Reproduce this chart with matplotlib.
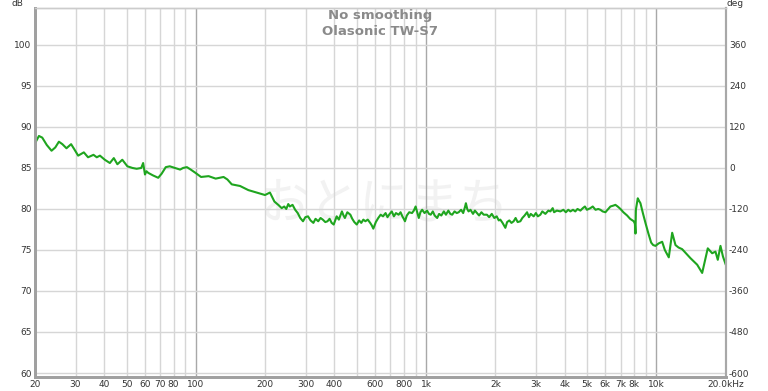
import matplotlib.pyplot as plt
from matplotlib.ticker import FixedLocator, FixedFormatter, NullLocator

# 频响数据 (Hz, dB)
freq = [20, 20.8, 21.5, 22.5, 23.6, 24.5, 25.4, 26.3, 27.4, 28.7, 29.6, 30.8, 32.6, 34.0,
        35.9, 37.1, 38.3, 40.2, 42.3, 44.0, 45.6, 47.9, 50.4, 53, 55.3, 57.9, 59.0, 60.1,
        61, 62.1, 65, 68.6, 71, 74.0, 77, 81.0, 85.4, 88, 91.4, 95, 99.6, 105.3, 113.6,
        121.9, 131.9, 137, 143.2, 155.6, 169.0, 183.8, 199.6, 209.8, 219.4,
        228, 236, 242, 247, 252, 256, 263, 270, 277, 284, 292, 299, 307, 315, 324, 331,
        340, 348, 356, 365, 373, 381, 389, 397, 409, 418, 431, 438, 444, 455, 469, 478,
        488, 500, 512, 523, 534, 545, 558, 572, 581, 590, 605, 620, 635, 650, 667, 680,
        695, 710, 725, 740, 760, 775, 789, 800, 810, 825, 845, 869, 885, 901, 915, 930,
        945, 962, 985, 1010, 1030, 1048, 1070, 1090, 1118, 1140, 1165, 1195, 1220, 1250,
        1275, 1299, 1330, 1360, 1386, 1420, 1450, 1475, 1490, 1510, 1530, 1560, 1600,
        1630, 1664, 1700, 1740, 1780, 1839, 1880, 1930, 1980, 2028, 2070, 2102, 2150,
        2211, 2250, 2300, 2350, 2402, 2450, 2500, 2569, 2620, 2680, 2747, 2800, 2850,
        2935, 3000, 3060, 3138, 3200, 3300, 3400, 3468, 3550, 3600, 3700, 3834, 3950,
        4050, 4150, 4238, 4350, 4450, 4550, 4684, 4800, 4900, 5000, 5177, 5300, 5450,
        5600, 5722, 5850, 6016, 6150, 6325, 6500, 6650, 6800, 6992, 7200, 7477, 7700,
        7988, 8080, 8127, 8160, 8315, 8420, 8541, 8750, 8980, 9250, 9506, 9700, 9926,
        10250, 10614, 10900, 11340, 11732, 12126, 12500, 12962, 14087, 15070, 15837,
        16750, 17500, 18090, 18514, 19020, 19500, 20000]
spl = [88.0, 88.9, 88.7, 87.8, 87.1, 87.5, 88.2, 87.9, 87.4, 87.9, 87.3, 86.5, 86.9, 86.3,
       86.6, 86.3, 86.5, 86.0, 85.6, 86.2, 85.45, 86.0, 85.2, 85.0, 84.9, 85.0, 85.6, 84.2,
       84.6, 84.4, 84.1, 83.8, 84.3, 85.1, 85.2, 85.0, 84.8, 85.0, 85.1, 84.8, 84.4, 83.9,
       84.0, 83.7, 83.9, 83.6, 83.0, 82.8, 82.3, 82.0, 81.7, 82.0, 80.9,
       80.5, 80.1, 80.3, 80.0, 80.6, 80.3, 80.5, 79.9, 79.5, 78.9, 78.5, 79.0, 79.1, 78.6,
       78.3, 78.8, 78.5, 78.9, 78.7, 78.4, 78.5, 78.8, 78.3, 78.1, 79.1, 78.7, 79.7, 79.2,
       78.9, 79.6, 79.3, 78.8, 78.4, 78.1, 78.6, 78.3, 78.7, 78.5, 78.7, 78.3, 78.0, 77.6,
       78.4, 78.9, 79.3, 79.1, 79.5, 79.0, 79.4, 79.7, 79.1, 79.5, 79.3, 79.6, 79.1, 78.8,
       78.5, 79.2, 79.6, 79.5, 79.8, 80.3, 79.6, 78.9, 79.6, 79.9, 79.5, 79.8, 79.4, 79.3,
       79.7, 79.2, 78.9, 79.4, 79.2, 79.7, 79.3, 79.8, 79.4, 79.3, 79.7, 79.5, 79.6, 79.9,
       79.5, 80.2, 80.7, 80.0, 79.7, 79.9, 79.4, 79.8, 79.5, 79.2, 79.6, 79.3, 79.3, 79.0,
       79.4, 78.9, 79.1, 78.6, 78.7, 78.3, 77.7, 78.4, 78.6, 78.3, 78.5, 78.9, 78.4, 78.5,
       78.9, 79.2, 79.6, 79.0, 79.4, 79.1, 79.5, 79.1, 79.3, 79.7, 79.4, 79.8, 79.7, 80.1,
       79.6, 79.8, 79.7, 79.9, 79.6, 79.9, 79.7, 79.9, 79.7, 80.0, 79.8, 80.1, 80.3, 79.9,
       80.1, 80.3, 79.9, 80.0, 79.9, 79.7, 79.6, 79.9, 80.3, 80.4, 80.5, 80.3, 80.0, 79.6,
       79.2, 78.8, 78.5, 78.2, 77.0, 79.9, 81.3, 81.0, 80.7, 79.5, 78.3, 77.0, 75.9, 75.6,
       75.5, 75.8, 76.0, 75.0, 74.1, 77.1, 75.6, 75.3, 75.1, 74.0, 73.2, 72.2, 75.2, 74.6,
       74.8, 73.8, 75.5, 74.2, 73.3]

# 刻度
grid_freqs = [20, 30, 40, 50, 60, 70, 80, 90, 100, 200, 300, 400, 500, 600, 700, 800, 900,
              1000, 2000, 3000, 4000, 5000, 6000, 7000, 8000, 9000, 10000, 20000]
grid_labels = ['20', '30', '40', '50', '60', '70', '80', '', '100', '200', '300', '400', '',
               '600', '', '800', '', '1k', '2k', '3k', '4k', '5k', '6k', '7k', '8k', '',
               '10k', '20.0kHz']
db_ticks = [60, 65, 70, 75, 80, 85, 90, 95, 100]
deg_labels = ['-600', '-480', '-360', '-240', '-120', '0', '120', '240', '360']

fig = plt.figure(figsize=(7.68, 3.91), dpi=100)
ax = fig.add_axes([35 / 768, 1 - 376.7 / 391, 690.5 / 768, 368.7 / 391])

ax.set_xscale('log')
ax.set_xlim(20, 20000)
ax.set_ylim(59.55, 104.5)

# 网格线
for f in grid_freqs[:-1]:
    dark = f in (100, 1000, 10000)
    ax.axvline(f, color='#a8a8a8' if dark else '#d6d6d6', lw=1.0, zorder=1)
for d in db_ticks:
    ax.axhline(d, color='#d6d6d6', lw=1.0, zorder=1)

# 水印
ax.text(0.507, 0.466, 'おとにまち', transform=ax.transAxes, ha='center', va='center',
        fontsize=36, color='#f2f2f2', family=['Noto Sans CJK JP', 'DejaVu Sans'], zorder=0.5)

ax.plot(freq, spl, color='#1fa51f', lw=1.5, zorder=3)

ax.xaxis.set_major_locator(FixedLocator(grid_freqs))
ax.xaxis.set_major_formatter(FixedFormatter(grid_labels))
ax.xaxis.set_minor_locator(NullLocator())
ax.set_yticks(db_ticks)
ax.set_yticklabels([str(d) for d in db_ticks])
ax.tick_params(axis='both', length=0, labelsize=6.5, labelcolor='#333333', pad=2.5)

ax2 = ax.twinx()
ax2.set_ylim(ax.get_ylim())
ax2.set_yticks(db_ticks)
ax2.set_yticklabels(deg_labels)
ax2.tick_params(axis='y', length=0, labelsize=6.5, labelcolor='#333333', pad=2.5)

for a in (ax, ax2):
    a.spines['left'].set_color('#a0a0a0')
    a.spines['left'].set_linewidth(2.0)
    a.spines['bottom'].set_color('#a0a0a0')
    a.spines['bottom'].set_linewidth(2.0)
    a.spines['right'].set_color('#a8a8a8')
    a.spines['right'].set_linewidth(1.5)
    a.spines['top'].set_color('#cccccc')
    a.spines['top'].set_linewidth(1.0)

ax.text(0.5, 0.979, 'No smoothing', transform=ax.transAxes, ha='center', va='center',
        fontsize=9.5, fontweight='bold', color='#8a8a8a', zorder=4)
ax.text(0.5, 0.936, 'Olasonic TW-S7', transform=ax.transAxes, ha='center', va='center',
        fontsize=9.5, fontweight='bold', color='#8a8a8a', zorder=4)

fig.text(17 / 768, 1 - 3 / 391, 'dB', ha='center', va='center', fontsize=6.5, color='#333333')
fig.text(735 / 768, 1 - 3 / 391, 'deg', ha='center', va='center', fontsize=6.5, color='#333333')

fig.savefig('out.png', dpi=100)
